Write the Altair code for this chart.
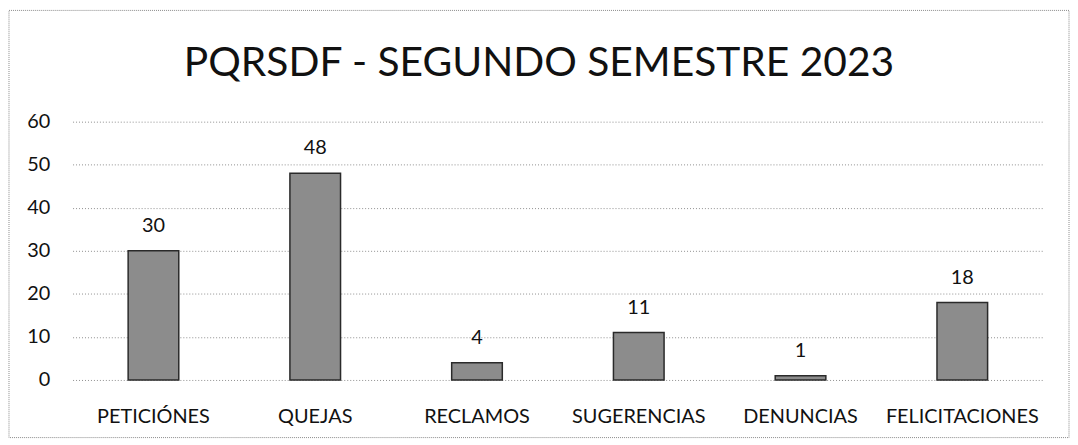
import altair as alt
import pandas as pd

categories = ["PETICIÓNES", "QUEJAS", "RECLAMOS", "SUGERENCIAS", "DENUNCIAS", "FELICITACIONES"]
values = [30, 48, 4, 11, 1, 18]
y_ticks = [0, 10, 20, 30, 40, 50, 60]
title_text = "PQRSDF - SEGUNDO SEMESTRE 2023"

df = pd.DataFrame({"cat": categories, "val": values})

W, H = 977, 260
PL, PT, PR, PB = 65, 113, 27, 59
FONT = "Lato"

x = alt.X("cat:N", sort=categories, title=None,
          scale=alt.Scale(paddingInner=0.687, paddingOuter=0.3435),
          axis=alt.Axis(labelAngle=0, labelFontSize=20, labelFont=FONT, labelColor="#111",
                        ticks=False, tickSize=0, domain=False, labelPadding=27, grid=False))
y = alt.Y("val:Q", title=None,
          scale=alt.Scale(domain=[0, 60], nice=False),
          axis=alt.Axis(values=y_ticks, labelFontSize=20, labelFont=FONT, labelColor="#111",
                        ticks=False, tickSize=0, domain=False, labelPadding=23,
                        grid=True, gridColor="#8f8f8f", gridDash=[1, 2], gridWidth=1))

base = alt.Chart(df)

bars = base.mark_bar(color="#8c8c8c", stroke="#2a2a2a", strokeWidth=1.5).encode(x=x, y=y)
labels = base.mark_text(fontSize=20, font=FONT, color="#111", baseline="alphabetic", dy=-19).encode(
    x=alt.X("cat:N", sort=categories), y="val:Q", text="val:Q")

frame = alt.Chart(pd.DataFrame({"a": [0]})).mark_rect(
    fill=None, stroke="#8a8a8a", strokeDash=[1, 1], strokeWidth=1).encode(
    x=alt.value(-PL + 1), x2=alt.value(W + PR - 1),
    y=alt.value(-PT + 1), y2=alt.value(H + PB - 1))

title = alt.Chart(pd.DataFrame({"t": [title_text]})).mark_text(
    font=FONT, fontSize=41, color="#111", baseline="alphabetic", align="center").encode(
    text="t:N", x=alt.value(W / 2 - 19), y=alt.value(-46))

chart = alt.layer(bars, labels, frame, title).properties(
    width=W, height=H,
    padding={"left": PL, "top": PT, "right": PR, "bottom": PB},
    autosize=alt.AutoSizeParams(type="none"),
    background="white",
).configure_view(stroke="transparent", strokeWidth=0)

chart.save("out.html", embed_options={"renderer": "svg", "actions": False})
